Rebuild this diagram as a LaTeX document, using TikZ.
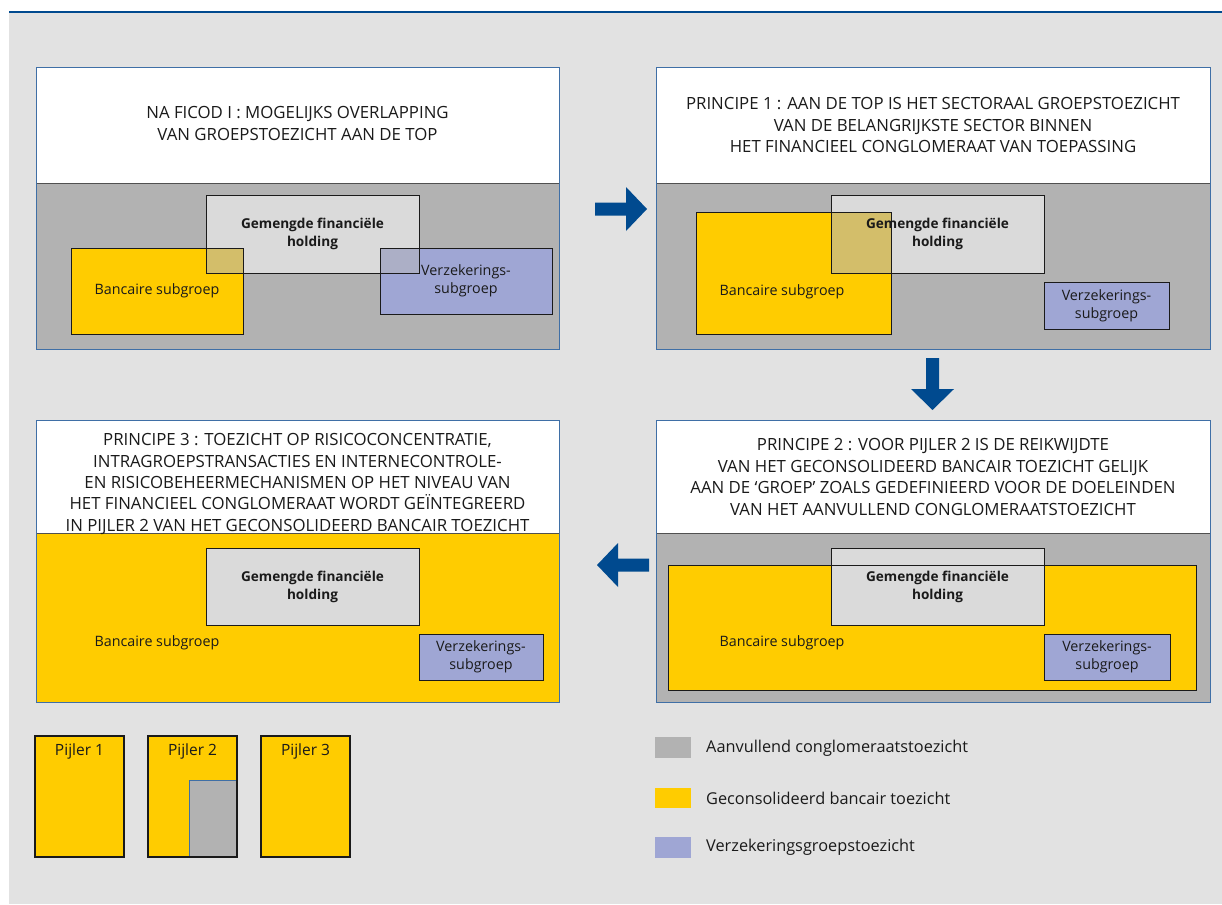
\documentclass[tikz,border=0pt]{standalone}
\usepackage{fontspec}
\setmainfont{Open Sans}
\definecolor{bgc}{HTML}{E2E2E2}
\definecolor{navy}{HTML}{004A8F}
\definecolor{pborder}{HTML}{3F6FA6}
\definecolor{divc}{HTML}{505050}
\definecolor{greyc}{HTML}{B2B2B2}
\definecolor{lgrey}{HTML}{DADADA}
\definecolor{yel}{HTML}{FFCC00}
\definecolor{purp}{HTML}{9FA6D4}
\definecolor{olive}{HTML}{D3BE6A}
\definecolor{pgrey}{HTML}{ACAFC6}
\definecolor{txt}{HTML}{1A1A1A}
\tikzset{
  rect/.style={anchor=north west, inner sep=0pt, outer sep=0pt},
  boxc/.style={draw=txt, line width=0.9pt},
  title/.style={align=center, text=txt, font=\fontsize{16.8}{21.4}\selectfont, inner sep=0pt},
  holdtxt/.style={align=center, text=txt, font=\fontsize{13.6}{18}\selectfont\bfseries, inner sep=0pt},
  subtxt/.style={align=center, text=txt, font=\fontsize{14.3}{18}\selectfont, inner sep=0pt},
  legtxt/.style={anchor=west, text=txt, font=\fontsize{16.3}{18}\selectfont, inner sep=0pt},
  arrowc/.style={fill=navy, draw=none}
}
\begin{document}
\begin{tikzpicture}[x=1pt,y=-1pt]
\useasboundingbox (0,0) rectangle (1222,904);
\fill[bgc] (9,12) rectangle (1222,904);
\draw[navy, line width=1.8pt] (9,12) -- (1222,12);

% ---------- Panel 1 ----------
\node[rect, fill=white, minimum width=523pt, minimum height=115pt] (p1h) at (36,68) {};
\node[rect, fill=greyc, minimum width=523pt, minimum height=166pt] (p1b) at (36,183) {};
\node[rect, fill=lgrey, minimum width=213pt, minimum height=78pt] (p1hold) at (206,195) {};
\node[rect, fill=yel, minimum width=172pt, minimum height=86pt] (p1bank) at (71,248) {};
\node[rect, fill=purp, minimum width=172pt, minimum height=66pt] (p1ins) at (380,248) {};
\fill[olive] (p1hold.north west |- p1bank.north) rectangle (p1bank.east |- p1hold.south);
\fill[pgrey] (p1ins.north west) rectangle (p1hold.south east);
\foreach \n in {p1hold,p1bank,p1ins} \draw[boxc] (\n.north west) rectangle (\n.south east);
\draw[divc, line width=0.9pt] (p1h.south west) -- (p1h.south east);
\draw[pborder, line width=1pt] (p1h.north west) rectangle (p1b.south east);
\node[title] at (297.5,123.5) {NA FICOD I : MOGELIJKS OVERLAPPING\\VAN GROEPSTOEZICHT AAN DE TOP};
\node[holdtxt] at (p1hold.center) {Gemengde financiële\\holding};
\node[subtxt] at (p1bank.center) {Bancaire subgroep};
\node[subtxt] at (p1ins.center) {Verzekerings-\\subgroep};

% ---------- Panel 2 ----------
\node[rect, fill=white, minimum width=554pt, minimum height=115pt] (p2h) at (656,68) {};
\node[rect, fill=greyc, minimum width=554pt, minimum height=166pt] (p2b) at (656,183) {};
\node[rect, fill=lgrey, minimum width=213pt, minimum height=78pt] (p2hold) at (831,195) {};
\node[rect, fill=yel, minimum width=195pt, minimum height=122pt] (p2bank) at (696,212) {};
\node[rect, fill=purp, minimum width=125pt, minimum height=47pt] (p2ins) at (1044,282) {};
\fill[olive] (p2hold.west |- p2bank.north) rectangle (p2bank.east |- p2hold.south);
\foreach \n in {p2hold,p2bank,p2ins} \draw[boxc] (\n.north west) rectangle (\n.south east);
\draw[divc, line width=0.9pt] (p2h.south west) -- (p2h.south east);
\draw[pborder, line width=1pt] (p2h.north west) rectangle (p2b.south east);
\node[title] at (933,125) {PRINCIPE 1 : AAN DE TOP IS HET SECTORAAL GROEPSTOEZICHT\\VAN DE BELANGRIJKSTE SECTOR BINNEN\\HET FINANCIEEL CONGLOMERAAT VAN TOEPASSING};
\node[holdtxt] at (p2hold.center) {Gemengde financiële\\holding};
\node[subtxt] at (782,292) {Bancaire subgroep};
\node[subtxt] at (p2ins.center) {Verzekerings-\\subgroep};

% ---------- Panel 4 (Principe 2) ----------
\node[rect, fill=white, minimum width=554pt, minimum height=113pt] (p4h) at (656,420) {};
\node[rect, fill=greyc, minimum width=554pt, minimum height=169pt] (p4b) at (656,533) {};
\node[rect, fill=yel, minimum width=528pt, minimum height=125pt] (p4bank) at (668,565) {};
\node[rect, fill=lgrey, minimum width=213pt, minimum height=77pt] (p4hold) at (831,548) {};
\node[rect, fill=purp, minimum width=126pt, minimum height=46pt] (p4ins) at (1044,634) {};
\foreach \n in {p4bank,p4hold,p4ins} \draw[boxc] (\n.north west) rectangle (\n.south east);
\draw[divc, line width=0.9pt] (p4h.south west) -- (p4h.south east);
\draw[pborder, line width=1pt] (p4h.north west) rectangle (p4b.south east);
\node[title] at (933,477) {PRINCIPE 2 : VOOR PIJLER 2 IS DE REIKWIJDTE\\VAN HET GECONSOLIDEERD BANCAIR TOEZICHT GELIJK\\AAN DE ‘GROEP’ ZOALS GEDEFINIEERD VOOR DE DOELEINDEN\\VAN HET AANVULLEND CONGLOMERAATSTOEZICHT};
\node[holdtxt] at (p4hold.center) {Gemengde financiële\\holding};
\node[subtxt] at (782,643) {Bancaire subgroep};
\node[subtxt] at (p4ins.center) {Verzekerings-\\subgroep};

% ---------- Panel 3 ----------
\node[rect, fill=white, minimum width=523pt, minimum height=113pt] (p3h) at (36,420) {};
\node[rect, fill=yel, minimum width=523pt, minimum height=169pt] (p3b) at (36,533) {};
\node[rect, fill=lgrey, minimum width=213pt, minimum height=77pt] (p3hold) at (206,548) {};
\node[rect, fill=purp, minimum width=124pt, minimum height=46pt] (p3ins) at (419,634) {};
\foreach \n in {p3hold,p3ins} \draw[boxc] (\n.north west) rectangle (\n.south east);
\draw[divc, line width=0.9pt] (p3h.south west) -- (p3h.south east);
\draw[pborder, line width=1pt] (p3h.north west) rectangle (p3b.south east);
\node[title] at (297.5,484) {PRINCIPE 3 : TOEZICHT OP RISICOCONCENTRATIE,\\INTRAGROEPSTRANSACTIES EN INTERNECONTROLE-\\EN RISICOBEHEERMECHANISMEN OP HET NIVEAU VAN\\HET FINANCIEEL CONGLOMERAAT WORDT GEÏNTEGREERD\\IN PIJLER 2 VAN HET GECONSOLIDEERD BANCAIR TOEZICHT};
\node[holdtxt] at (p3hold.center) {Gemengde financiële\\holding};
\node[subtxt] at (157,643) {Bancaire subgroep};
\node[subtxt] at (p3ins.center) {Verzekerings-\\subgroep};

% ---------- Arrows ----------
\coordinate (ar) at (647,209);
\fill[arrowc] (ar) -- ++(-21,-22) -- ++(0,15.5) -- ++(-31,0) -- ++(0,13) -- ++(31,0) -- ++(0,15.5) -- cycle;
\coordinate (ad) at (932.5,410);
\fill[arrowc] (ad) -- ++(-21.5,-21) -- ++(15,0) -- ++(0,-31) -- ++(13,0) -- ++(0,31) -- ++(15,0) -- cycle;
\coordinate (al) at (597,565);
\fill[arrowc] (al) -- ++(21,-22) -- ++(0,15.5) -- ++(31,0) -- ++(0,13) -- ++(-31,0) -- ++(0,15.5) -- cycle;

% ---------- Pijler legend ----------
\node[rect, fill=yel, minimum width=89pt, minimum height=121pt] (pj1) at (35,736) {};
\node[rect, fill=yel, minimum width=89pt, minimum height=121pt] (pj2) at (148,736) {};
\node[rect, fill=yel, minimum width=89pt, minimum height=121pt] (pj3) at (261,736) {};
\fill[greyc] (189,780) rectangle (pj2.south east);
\draw[pborder, line width=1pt] (189,780) rectangle (pj2.south east);
\foreach \n in {pj1,pj2,pj3} \draw[txt, line width=1.1pt] (\n.north west) rectangle (\n.south east);
\node[subtxt, font=\fontsize{15.5}{18}\selectfont, anchor=center] at ([yshift=-15pt]pj1.north) {Pijler 1};
\node[subtxt, font=\fontsize{15.5}{18}\selectfont, anchor=center] at ([yshift=-15pt]pj2.north) {Pijler 2};
\node[subtxt, font=\fontsize{15.5}{18}\selectfont, anchor=center] at ([yshift=-15pt]pj3.north) {Pijler 3};

% ---------- Colour legend ----------
\node[rect, fill=greyc, minimum width=36pt, minimum height=21pt] (lg1) at (655,737) {};
\node[rect, fill=yel, minimum width=36pt, minimum height=20pt] (lg2) at (655,788) {};
\node[rect, fill=purp, minimum width=36pt, minimum height=21pt] (lg3) at (655,837) {};
\node[legtxt] at (706,748) {Aanvullend conglomeraatstoezicht};
\node[legtxt] at (706,798) {Geconsolideerd bancair toezicht};
\node[legtxt] at (706,847) {Verzekeringsgroepstoezicht};
\end{tikzpicture}
\end{document}
